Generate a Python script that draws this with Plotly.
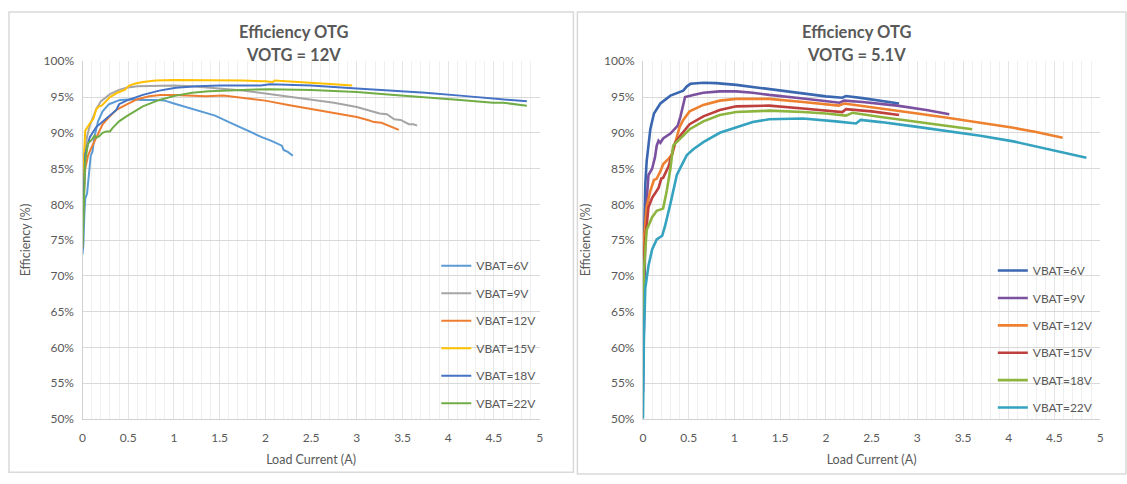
import plotly.graph_objects as go

W, H = 1127, 484

# ---------------- data: left chart (VOTG = 12V) ----------------
L_names = ["VBAT=6V", "VBAT=9V", "VBAT=12V", "VBAT=15V", "VBAT=18V", "VBAT=22V"]
L_colors = ["#5B9BD5", "#A5A5A5", "#ED7D31", "#FFC000", "#4472C4", "#70AD47"]

L6_x = [0.0, 0.01, 0.02, 0.03, 0.05, 0.07, 0.09, 0.11, 0.13, 0.17, 0.22, 0.29, 0.41, 0.55, 0.65, 0.8, 0.9, 1.0, 1.14, 1.3, 1.45, 1.62, 1.75, 1.86, 1.96, 2.06, 2.12, 2.18, 2.2, 2.25, 2.3]
L6_y = [73.0, 74.5, 78.5, 80.8, 81.5, 84.5, 86.8, 87.4, 89.4, 91.6, 93.0, 94.0, 94.6, 94.7, 94.6, 94.6, 94.5, 94.1, 93.6, 93.0, 92.4, 91.4, 90.6, 89.9, 89.4, 88.9, 88.6, 88.2, 87.6, 87.3, 86.8]

L9_x = [0.0, 0.02, 0.05, 0.08, 0.12, 0.15, 0.2, 0.3, 0.4, 0.48, 0.6, 0.8, 1.0, 1.2, 1.5, 1.75, 2.0, 2.25, 2.5, 2.75, 3.0, 3.15, 3.25, 3.33, 3.38, 3.41, 3.48, 3.53, 3.57, 3.62, 3.66]
L9_y = [80.0, 86.0, 89.5, 91.0, 92.3, 93.3, 94.4, 95.4, 96.0, 96.3, 96.5, 96.6, 96.6, 96.5, 96.2, 95.9, 95.5, 95.1, 94.7, 94.2, 93.6, 93.1, 92.7, 92.6, 92.2, 91.9, 91.8, 91.5, 91.2, 91.2, 91.0]

L12_x = [0.0, 0.01, 0.03, 0.06, 0.09, 0.12, 0.17, 0.22, 0.29, 0.37, 0.49, 0.6, 0.73, 0.85, 1.0, 1.2, 1.35, 1.54, 1.75, 2.0, 2.25, 2.5, 2.75, 3.0, 3.12, 3.19, 3.27, 3.35, 3.46]
L12_y = [74.0, 80.0, 85.0, 86.8, 87.7, 88.5, 90.0, 91.2, 92.2, 93.2, 94.0, 94.7, 95.1, 95.3, 95.3, 95.2, 95.1, 95.2, 94.9, 94.5, 93.9, 93.3, 92.8, 92.2, 91.8, 91.5, 91.4, 91.0, 90.4]

L15_x = [0.0, 0.01, 0.03, 0.08, 0.12, 0.15, 0.18, 0.21, 0.25, 0.3, 0.38, 0.46, 0.51, 0.58, 0.66, 0.8, 1.0, 1.2, 1.5, 1.75, 2.0, 2.08, 2.1, 2.25, 2.5, 2.75, 2.95]
L15_y = [82.5, 86.0, 90.3, 91.3, 92.0, 93.3, 93.7, 93.8, 94.4, 95.0, 95.6, 96.0, 96.6, 96.9, 97.1, 97.3, 97.4, 97.4, 97.35, 97.3, 97.2, 97.1, 97.3, 97.2, 97.0, 96.8, 96.6]

L18_x = [0.0, 0.01, 0.03, 0.08, 0.15, 0.22, 0.3, 0.37, 0.4, 0.48, 0.66, 0.84, 1.02, 1.25, 1.5, 1.75, 1.95, 2.05, 2.5, 3.0, 3.41, 3.75, 4.13, 4.5, 4.65, 4.86]
L18_y = [73.8, 80.0, 87.0, 89.4, 90.8, 91.6, 92.5, 93.2, 94.0, 94.5, 95.3, 95.9, 96.3, 96.5, 96.6, 96.6, 96.6, 96.8, 96.6, 96.2, 95.9, 95.6, 95.2, 94.8, 94.7, 94.4]

L22_x = [0.0, 0.01, 0.03, 0.06, 0.1, 0.13, 0.15, 0.18, 0.22, 0.26, 0.3, 0.33, 0.4, 0.48, 0.57, 0.66, 0.84, 1.02, 1.2, 1.38, 1.75, 2.04, 2.5, 3.0, 3.41, 3.75, 4.13, 4.49, 4.6, 4.86]
L22_y = [74.0, 79.0, 86.0, 88.5, 89.0, 89.6, 89.3, 89.5, 90.0, 90.2, 90.2, 90.7, 91.6, 92.3, 93.0, 93.7, 94.6, 95.2, 95.6, 95.8, 96.0, 96.1, 96.0, 95.7, 95.3, 95.0, 94.6, 94.2, 94.2, 93.8]

# ---------------- data: right chart (VOTG = 5.1V) ----------------
R_names = ["VBAT=6V", "VBAT=9V", "VBAT=12V", "VBAT=15V", "VBAT=18V", "VBAT=22V"]
R_colors = ["#3A67B0", "#7B509F", "#EE8130", "#BE3F3C", "#8DB43F", "#35A2BF"]

R6_x = [0.0, 0.01, 0.025, 0.04, 0.08, 0.12, 0.19, 0.3, 0.41, 0.44, 0.48, 0.52, 0.66, 0.8, 1.02, 1.2, 1.38, 1.55, 1.75, 2.0, 2.18, 2.22, 2.4, 2.6, 2.8]
R6_y = [68.0, 75.0, 82.8, 86.0, 90.5, 92.7, 94.1, 95.2, 95.8, 95.9, 96.5, 96.85, 97.0, 96.95, 96.7, 96.4, 96.1, 95.8, 95.5, 95.1, 94.9, 95.15, 94.85, 94.5, 94.1]

R9_x = [0.0, 0.01, 0.025, 0.04, 0.06, 0.1, 0.13, 0.15, 0.17, 0.19, 0.22, 0.3, 0.35, 0.38, 0.41, 0.44, 0.46, 0.55, 0.66, 0.84, 1.02, 1.2, 1.38, 1.75, 2.0, 2.15, 2.2, 2.4, 2.78, 3.1, 3.35]
R9_y = [53.8, 65.0, 76.4, 80.5, 84.1, 85.0, 86.5, 88.2, 88.9, 88.6, 89.2, 89.9, 90.5, 91.0, 92.3, 94.0, 95.0, 95.3, 95.6, 95.8, 95.8, 95.6, 95.3, 94.8, 94.4, 94.2, 94.5, 94.3, 93.8, 93.2, 92.6]

R12_x = [0.0, 0.01, 0.04, 0.08, 0.12, 0.15, 0.19, 0.22, 0.28, 0.32, 0.34, 0.37, 0.4, 0.44, 0.51, 0.66, 0.84, 1.02, 1.2, 1.38, 1.75, 2.0, 2.14, 2.2, 2.5, 3.0, 3.33, 3.7, 4.05, 4.3, 4.59]
R12_y = [63.0, 75.1, 79.6, 81.9, 83.4, 83.6, 84.6, 85.6, 86.4, 87.0, 88.0, 89.3, 90.8, 91.8, 93.0, 93.9, 94.5, 94.75, 94.8, 94.75, 94.3, 94.0, 93.8, 94.1, 93.6, 92.7, 92.1, 91.4, 90.7, 90.1, 89.3]

R15_x = [0.0, 0.01, 0.025, 0.06, 0.1, 0.15, 0.17, 0.2, 0.22, 0.28, 0.32, 0.35, 0.42, 0.51, 0.66, 0.84, 1.02, 1.38, 1.75, 2.0, 2.18, 2.22, 2.5, 2.8]
R15_y = [62.0, 72.0, 75.1, 79.6, 80.9, 81.9, 82.3, 83.6, 83.7, 85.3, 87.3, 88.6, 89.8, 91.2, 92.3, 93.2, 93.7, 93.8, 93.4, 93.1, 92.9, 93.3, 93.0, 92.5]

R18_x = [0.0, 0.01, 0.04, 0.1, 0.15, 0.22, 0.26, 0.3, 0.33, 0.39, 0.45, 0.51, 0.66, 0.84, 1.02, 1.38, 1.75, 2.0, 2.22, 2.29, 2.6, 2.96, 3.3, 3.6]
R18_y = [60.0, 70.6, 76.4, 78.2, 79.1, 79.4, 81.9, 85.0, 88.2, 89.0, 89.8, 90.5, 91.6, 92.5, 92.9, 93.1, 92.9, 92.7, 92.4, 92.8, 92.2, 91.6, 91.1, 90.5]

R22_x = [0.0, 0.01, 0.025, 0.06, 0.1, 0.15, 0.21, 0.24, 0.3, 0.37, 0.44, 0.48, 0.55, 0.66, 0.84, 1.02, 1.2, 1.38, 1.6, 1.75, 2.11, 2.25, 2.33, 2.38, 2.6, 2.96, 3.3, 3.69, 4.05, 4.41, 4.85]
R22_y = [50.0, 61.5, 68.3, 71.4, 73.7, 75.1, 75.6, 76.9, 80.1, 84.1, 85.9, 86.9, 87.7, 88.7, 90.0, 90.8, 91.5, 91.9, 92.0, 92.0, 91.6, 91.35, 91.3, 91.8, 91.5, 90.9, 90.3, 89.6, 88.8, 87.8, 86.5]

X_TICKS = [0, 0.5, 1, 1.5, 2, 2.5, 3, 3.5, 4, 4.5, 5]
Y_TICKS = [50, 55, 60, 65, 70, 75, 80, 85, 90, 95, 100]
TITLE_L = ["Efficiency OTG", "VOTG = 12V"]
TITLE_R = ["Efficiency OTG", "VOTG = 5.1V"]
X_TITLE = "Load Current (A)"
Y_TITLE = "Efficiency (%)"

L_series = [(L6_x, L6_y), (L9_x, L9_y), (L12_x, L12_y), (L15_x, L15_y), (L18_x, L18_y), (L22_x, L22_y)]
R_series = [(R6_x, R6_y), (R9_x, R9_y), (R12_x, R12_y), (R15_x, R15_y), (R18_x, R18_y), (R22_x, R22_y)]

# ---------------- layout helpers (pixel geometry) ----------------
def px_x(p):
    return p / W

def px_y(p):
    return 1 - p / H

FONT = "Lato, 'Open Sans', sans-serif"
TXT = "#595959"

fig = go.Figure()

for i, ((xs, ys), name, col) in enumerate(zip(L_series, L_names, L_colors)):
    fig.add_trace(go.Scatter(x=xs, y=ys, mode="lines", name=name,
                             line=dict(color=col, width=2),
                             xaxis="x", yaxis="y", legend="legend",
                             legendgroup="L%d" % i))
for i, ((xs, ys), name, col) in enumerate(zip(R_series, R_names, R_colors)):
    fig.add_trace(go.Scatter(x=xs, y=ys, mode="lines", name=name,
                             line=dict(color=col, width=2.6),
                             xaxis="x2", yaxis="y2", legend="legend2",
                             legendgroup="R%d" % i))

def xaxis(dom, anchor):
    return dict(domain=dom, anchor=anchor, range=[0, 5], tickvals=X_TICKS,
                ticktext=[("%g" % v) for v in X_TICKS],
                showgrid=True, gridcolor="#E4E4E4", gridwidth=1,
                minor=dict(dtick=0.1, tick0=0, showgrid=True, gridcolor="#EFEFEF", gridwidth=1),
                showline=True, linecolor="#D0D0D0", linewidth=1.2, mirror=False,
                zeroline=False, ticks="", ticklabelstandoff=8,
                tickfont=dict(family=FONT, size=12, color=TXT),
                title=dict(text=X_TITLE, font=dict(family=FONT, size=12.5, color=TXT), standoff=10),
                fixedrange=True)

def yaxis(dom, anchor):
    return dict(domain=dom, anchor=anchor, range=[50, 100], tickvals=Y_TICKS,
                ticktext=["%d%%" % v for v in Y_TICKS],
                showgrid=True, gridcolor="#D9D9D9", gridwidth=1,
                showline=True, linecolor="#D0D0D0", linewidth=1.2,
                zeroline=False, ticks="", ticklabelstandoff=5,
                tickfont=dict(family=FONT, size=12, color=TXT),
                title=dict(text=Y_TITLE, font=dict(family=FONT, size=12.5, color=TXT), standoff=10),
                fixedrange=True)

ydom = [px_y(424), px_y(55)]
fig.update_layout(
    width=W, height=H, autosize=False,
    margin=dict(l=0, r=0, t=0, b=0, pad=0),
    paper_bgcolor="white", plot_bgcolor="white",
    xaxis=xaxis([px_x(80), px_x(540)], "y"),
    yaxis=yaxis(ydom, "x"),
    xaxis2=xaxis([px_x(644), px_x(1104)], "y2"),
    yaxis2=yaxis(ydom, "x2"),
    showlegend=True,
    legend=dict(x=px_x(436), y=px_y(251), xanchor="left", yanchor="top",
                bgcolor="rgba(0,0,0,0)", font=dict(family=FONT, size=12, color=TXT),
                tracegroupgap=8.5, itemwidth=30, traceorder="grouped"),
    legend2=dict(x=px_x(996), y=px_y(256), xanchor="left", yanchor="top",
                 bgcolor="rgba(0,0,0,0)", font=dict(family=FONT, size=12, color=TXT),
                 tracegroupgap=8.4, itemwidth=30, traceorder="grouped"),
)

# panel frames
fig.add_shape(type="rect", xref="paper", yref="paper",
              x0=px_x(6), x1=px_x(574), y0=px_y(479), y1=px_y(4),
              line=dict(color="#D9D9D9", width=1.5), layer="below")
fig.add_shape(type="rect", xref="paper", yref="paper",
              x0=px_x(578), x1=px_x(1130), y0=px_y(481), y1=px_y(4),
              line=dict(color="#D9D9D9", width=1.5), layer="below")

# titles
for cx, lines in [(292, TITLE_L), (859, TITLE_R)]:
    for k, (t, cy) in enumerate(zip(lines, [25, 48])):
        fig.add_annotation(text="<b>%s</b>" % t, xref="paper", yref="paper",
                           x=px_x(cx), y=px_y(cy), xanchor="center", yanchor="middle",
                           showarrow=False, font=dict(family=FONT, size=16.5, color=TXT))

fig.write_html("out.html", include_plotlyjs=True,
               config={"displayModeBar": False},
               post_script="document.body.style.margin='0';document.body.style.overflow='hidden';")
